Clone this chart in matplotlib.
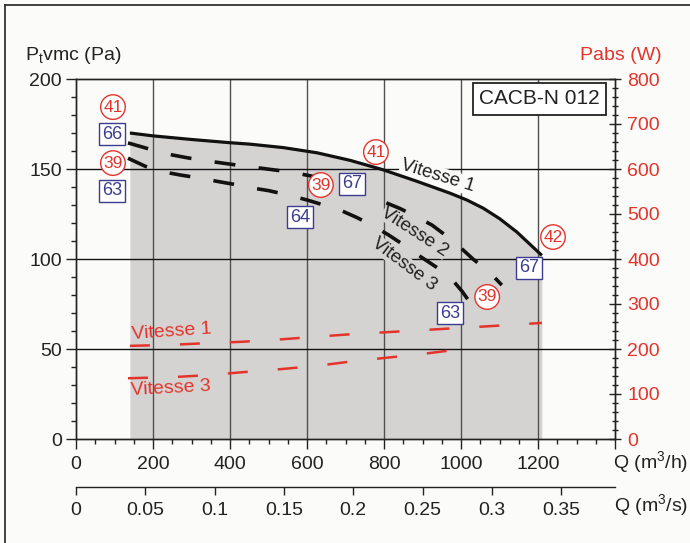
import matplotlib
matplotlib.use("Agg")
import matplotlib.pyplot as plt
from matplotlib.lines import Line2D
from matplotlib.ticker import MultipleLocator, FixedLocator

plt.rcParams['font.family'] = ['Liberation Sans', 'DejaVu Sans']

# ---- data ----
q_v1 = [140, 200, 300, 400, 452, 538, 626, 712, 797, 885, 971, 1015, 1058, 1101, 1145, 1210]
p_v1 = [170, 168.4, 166.4, 164.6, 163.8, 161.9, 159.0, 154.8, 149.6, 143.2, 136.6, 132.8,
        128.2, 122.3, 115, 102]

q_v2 = [135, 200, 245, 290, 330, 390, 445, 486, 525, 575, 613, 678, 758, 797, 842, 880,
        925, 964, 1003, 1031, 1075, 1106]
p_v2 = [164.5, 160.5, 158, 156.2, 154.8, 153, 151.4, 150.3, 149.2, 147.6, 146, 142.5,
        135.8, 132, 128, 124, 118.8, 112.5, 105.5, 100, 92.5, 85.5]

q_v3 = [135, 180, 225, 270, 320, 365, 410, 450, 500, 550, 600, 640, 690, 730, 770, 810,
        850, 890, 950, 980, 1003, 1028]
p_v3 = [156, 151.5, 148.5, 146.7, 145, 143.2, 141.5, 139.7, 138, 135.6, 132.8, 130.2,
        126.8, 123, 118.6, 113.6, 108, 102, 93.5, 87.8, 82, 74.4]

q_w1 = [140, 240, 340, 430, 525, 620, 700, 800, 900, 1000, 1100, 1210]
w_w1 = [207, 209, 213, 216, 221, 227, 232, 237, 242, 247, 252, 258]

q_w3 = [135, 250, 345, 440, 535, 630, 712, 800, 900, 1030]
w_w3 = [135, 137.5, 142, 149, 155.5, 163, 172, 180, 189, 203]

q_ticks = [0, 200, 400, 600, 800, 1000, 1200]
qs_ticks = [0, 0.05, 0.1, 0.15, 0.2, 0.25, 0.3, 0.35]
qs_labels = ['0', '0.05', '0.1', '0.15', '0.2', '0.25', '0.3', '0.35']

circle_labels = ['41', '39', '41', '39', '42', '39']
circle_q = [96, 96, 779, 636, 1239, 1068]
circle_p = [184.4, 153.3, 159.4, 141.1, 112.2, 78.9]

box_labels = ['66', '63', '67', '64', '67', '63']
box_q = [93.5, 93.5, 717, 582, 1177, 971]
box_p = [169.4, 137.8, 141.7, 123.3, 95, 70]

RED = '#e3342b'
BLUE = '#3c3c8e'
GRAY = '#d5d3d2'
BG = '#fbfbf9'
INK = '#222222'
FS = 14

fig = plt.figure(figsize=(6.9, 5.43), dpi=100, facecolor=BG)
ax = fig.add_axes([76/690, 1-439/543, (615-76)/690, (439-79)/543])
ax.set_facecolor(BG)
ax.set_xlim(0, 1400)
ax.set_ylim(0, 200)

# gray operating area
ax.fill_between(q_v1, 0, p_v1, color=GRAY, lw=0, zorder=1)

# grid
for q in q_ticks[1:]:
    ax.axvline(q, color='#505050', lw=1.0, zorder=2)
for p in [50, 100, 150]:
    ax.axhline(p, color='#111111', lw=1.0, zorder=2)

# pressure curves
ax.plot(q_v1, p_v1, color='#111111', lw=2.3, zorder=5, solid_capstyle='butt',
        solid_joinstyle='round')
ax.plot(q_v2, p_v2, color='#111111', lw=2.6, ls=(0, (5.8, 6.5)), zorder=5)
ax.plot(q_v3, p_v3, color='#111111', lw=2.6, ls=(0, (5.8, 6.5)), zorder=5)

# power curves
ax2 = ax.twinx()
ax2.set_ylim(0, 800)
ax2.plot(q_w1, w_w1, color=RED, lw=1.8, ls=(0, (8, 12)), zorder=5)
ax2.plot(q_w3, w_w3, color=RED, lw=1.8, ls=(0, (8, 12)), zorder=5)

# axes styling
for a in (ax, ax2):
    for s in a.spines.values():
        s.set_color(INK)
        s.set_linewidth(1.0)

ax.xaxis.set_major_locator(FixedLocator(q_ticks + [1400]))
ax.set_xticklabels([str(v) for v in q_ticks] + [''])
ax.xaxis.set_minor_locator(MultipleLocator(50))
ax.yaxis.set_major_locator(MultipleLocator(50))
ax.yaxis.set_minor_locator(MultipleLocator(10))
ax.tick_params(axis='both', which='major', length=7, width=1.0, labelsize=FS,
               color=INK, labelcolor=INK, pad=3)
ax.tick_params(axis='both', which='minor', length=3.5, width=1.0, color=INK)
ax.tick_params(axis='x', which='major', pad=5)

ax2.yaxis.set_major_locator(MultipleLocator(100))
ax2.yaxis.set_minor_locator(MultipleLocator(20))
ax2.tick_params(axis='y', which='major', direction='inout', length=8, width=1.0,
                labelsize=FS, labelcolor=RED, color=INK, pad=5)
ax2.tick_params(axis='y', which='minor', direction='inout', length=5, width=1.0,
                color=INK)

# secondary axis in m3/s
sec = ax.secondary_xaxis(-0.133, functions=(lambda x: x / 3600.0, lambda x: x * 3600.0))
sec.set_xticks(qs_ticks)
sec.set_xticklabels(qs_labels)
sec.xaxis.set_minor_locator(FixedLocator([]))
sec.tick_params(axis='x', which='major', length=6, width=1.0, labelsize=FS,
                color=INK, labelcolor=INK, pad=5)
sec.spines['bottom'].set_color(INK)
sec.spines['bottom'].set_linewidth(1.0)

# axis titles
fig.text(25/690, 1-55/543, r'P$_\mathregular{t}$vmc (Pa)', fontsize=FS,
         color=INK, ha='left', va='center')
fig.text(621/690, 1-56/543, 'Pabs (W)', fontsize=FS, color=RED, ha='center', va='center')
fig.text(651/690, 1-463/543, r'Q (m$^\mathregular{3}$/h)', fontsize=FS,
         color=INK, ha='center', va='center')
fig.text(651/690, 1-506/543, r'Q (m$^\mathregular{3}$/s)', fontsize=FS,
         color=INK, ha='center', va='center')

# model box
ax.text(1203, 188.9, 'CACB-N 012', fontsize=15, color=INK, ha='center', va='center',
        zorder=8, bbox=dict(boxstyle='square,pad=0.3', fc='white', ec=INK, lw=1.3))

# curve labels
ax.text(940, 146, 'Vitesse 1', fontsize=13.5, color=INK, rotation=-17,
        ha='center', va='center', zorder=4,
        bbox=dict(boxstyle='square,pad=0.05', fc=BG, ec='none'))
ax.text(880, 115, 'Vitesse 2', fontsize=13.5, color=INK, rotation=-33,
        ha='center', va='center', zorder=4,
        bbox=dict(boxstyle='square,pad=0.0', fc=GRAY, ec='none'))
ax.text(853, 97, 'Vitesse 3', fontsize=13.5, color=INK, rotation=-37,
        ha='center', va='center', zorder=4,
        bbox=dict(boxstyle='square,pad=0.0', fc=GRAY, ec='none'))
ax.text(249, 59.4, 'Vitesse 1', fontsize=14, color=RED, rotation=4,
        ha='center', va='center', zorder=6)
ax.text(247, 28.3, 'Vitesse 3', fontsize=14, color=RED, rotation=3,
        ha='center', va='center', zorder=6)

# markers: sound levels (circles) and efficiencies (boxes)
for t, q, p in zip(circle_labels, circle_q, circle_p):
    ax.text(q, p, t, fontsize=12.5, color=RED, ha='center', va='center', zorder=9,
            bbox=dict(boxstyle='circle,pad=0.15', fc='white', ec=RED, lw=1.0))
for t, q, p in zip(box_labels, box_q, box_p):
    ax.text(q, p, t, fontsize=13, color=BLUE, ha='center', va='center', zorder=9,
            bbox=dict(boxstyle='square,pad=0.15', fc='white', ec=BLUE, lw=1.0))

# figure frame (left and top)
fig.add_artist(Line2D([5/690, 5/690], [0, 1-5/543], transform=fig.transFigure,
                      color=INK, lw=1.2))
fig.add_artist(Line2D([5/690, 1], [1-5/543, 1-5/543], transform=fig.transFigure,
                      color=INK, lw=1.2))

fig.savefig('out.png', dpi=100, facecolor=BG)
